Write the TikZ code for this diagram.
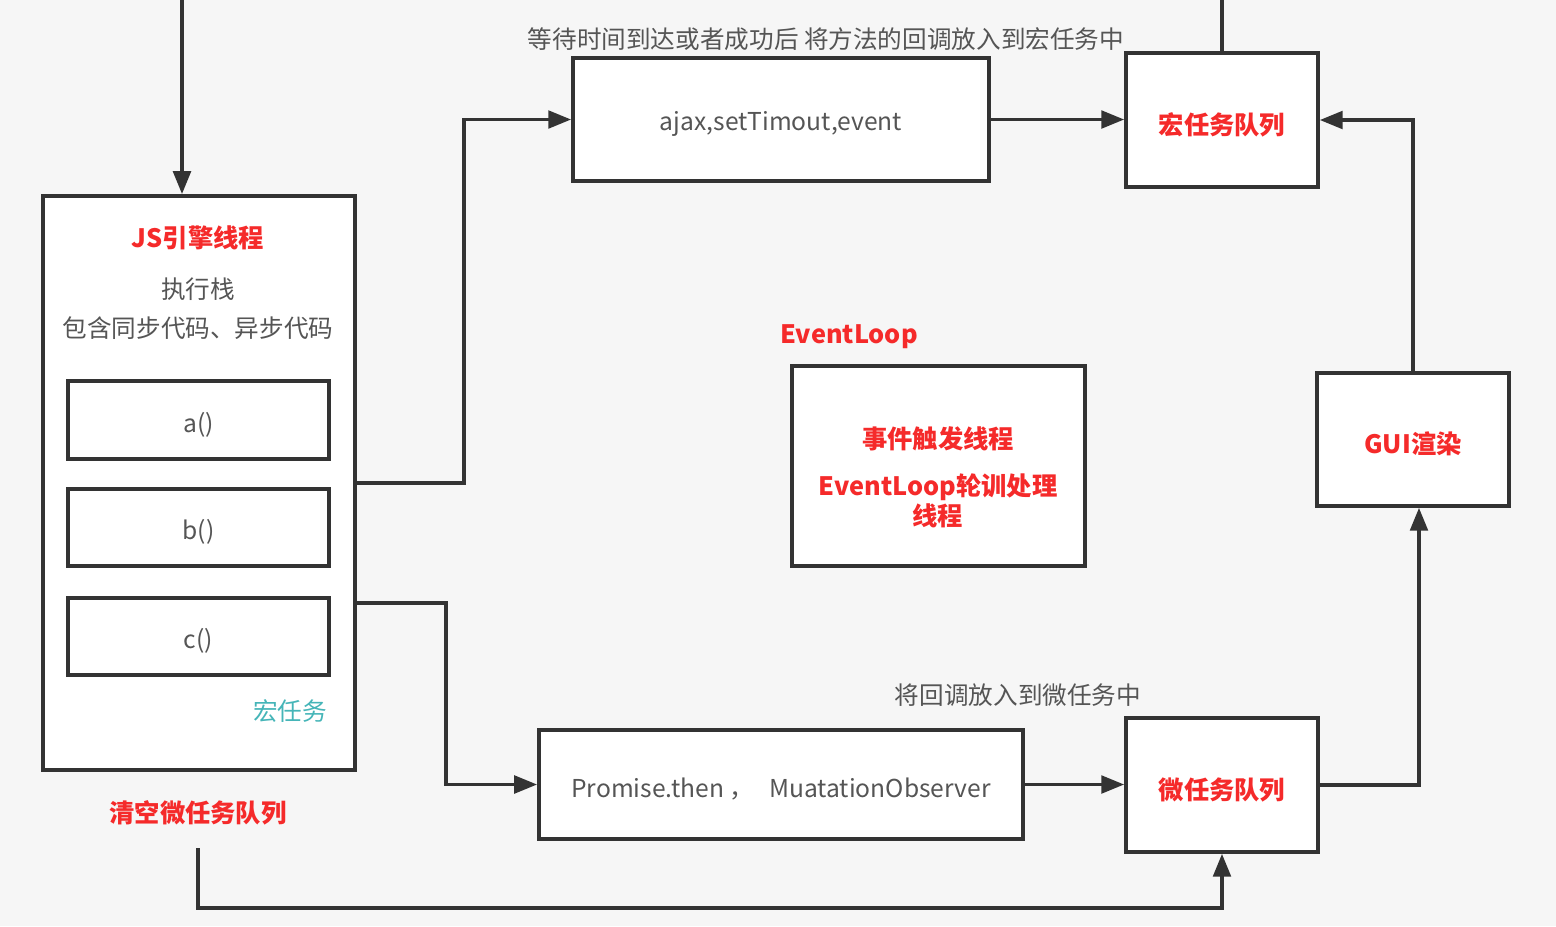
\documentclass[tikz,border=0pt]{standalone}
\usepackage{fontspec}
\setmainfont{Noto Sans CJK SC}
\usetikzlibrary{arrows.meta}
\definecolor{bg}{HTML}{F6F6F6}
\definecolor{ln}{HTML}{333333}
\definecolor{redt}{HTML}{F52A2A}
\definecolor{grayt}{HTML}{555555}
\definecolor{teal}{HTML}{45B5B8}
\newcommand{\dn}[1]{\raisebox{-1.3pt}[\height][\depth]{#1}}
\tikzset{
  box/.style={draw=ln, line width=1pt, fill=white, inner sep=0pt},
  conn/.style={draw=ln, line width=1pt},
  arr/.style={conn, -{Triangle[length=6.5pt,width=5pt]}},
  redlbl/.style={text=redt, font=\fontsize{7.2}{8.6}\selectfont\bfseries, align=center},
  graylbl/.style={text=grayt, font=\fontsize{7}{8.4}\selectfont},
}
\begin{document}
\begin{tikzpicture}[x=0.01cm, y=-0.01cm]
\useasboundingbox[fill=bg] (0,0) rectangle (1556,926);

% JS engine box
\node[box, minimum width=3.12cm, minimum height=5.74cm] (js) at (199,483) {};
\node[redlbl] (jst) at (198,238) {JS引擎线程};
\node[graylbl] (stk) at (198,289) {执行栈};
\node[graylbl] (cont) at (198,328) {包含同步代码、异步代码};
\node[box, minimum width=2.61cm, minimum height=0.78cm, font=\fontsize{7}{8}\selectfont, text=grayt] (a) at (198.5,420) {\dn{a()}};
\node[box, minimum width=2.61cm, minimum height=0.77cm, font=\fontsize{7}{8}\selectfont, text=grayt] (b) at (198.5,527.5) {\dn{b()}};
\node[box, minimum width=2.61cm, minimum height=0.77cm, font=\fontsize{7}{8}\selectfont, text=grayt] (c) at (198.5,636.5) {\dn{c()}};
\node[text=teal, font=\fontsize{7}{8}\selectfont] (mac) at (290,711) {宏任务};
\node[redlbl] (clr) at (198,813) {清空微任务队列};

% top row
\node[box, minimum width=4.16cm, minimum height=1.23cm, font=\fontsize{7}{8}\selectfont, text=grayt] (ajax) at (781,119.5) {\dn{ajax,setTimout,event}};
\node[box, minimum width=1.92cm, minimum height=1.34cm, redlbl] (macro) at (1222,120) {\dn{宏任务队列}};
\node[graylbl] (toplbl) at (826,39) {等待时间到达或者成功后 将方法的回调放入到宏任务中};

% event loop
\node[redlbl] (ell) at (849,337) {EventLoop};
\node[box, minimum width=2.93cm, minimum height=2.0cm] (el) at (938.5,466) {};
\node[redlbl] (el1) at (938,439) {事件触发线程};
\node[redlbl] (el2) at (938,501) {EventLoop轮训处理\\线程};

% GUI
\node[box, minimum width=1.92cm, minimum height=1.33cm, redlbl] (gui) at (1413,439.5) {\dn{GUI渲染}};

% bottom row
\node[box, minimum width=4.84cm, minimum height=1.09cm, font=\fontsize{7}{8}\selectfont, text=grayt] (prom) at (781,784.5) {\dn{Promise.then ，\hspace{0.6em}MuatationObserver}};
\node[box, minimum width=1.92cm, minimum height=1.34cm, redlbl] (micro) at (1222,785) {\dn{微任务队列}};
\node[graylbl] (botlbl) at (1018,695) {将回调放入到微任务中};

% coordinates
\coordinate (topin) at (182,0);
\coordinate (topout) at (1222,0);
\coordinate (js2) at (355,603);
\coordinate (clrout) at (198,848);

% connectors
\draw[arr] (topin) -- (topin |- js.north);
\draw[conn] (macro.north) -- (topout);
\draw[arr] (js.east) -- (464,483) |- (ajax.west);
\draw[arr] (ajax.east) -- (ajax.east -| macro.west);
\draw[arr] (gui.north) |- (macro.east);
\draw[arr] (js2) -- (446,603) |- (prom.west);
\draw[arr] (prom.east) -- (prom.east -| micro.west);
\draw[arr] (micro.east) -| ([xshift=0.06cm]gui.south);
\draw[arr] (clrout) -- (198,908) -| (micro.south);
\end{tikzpicture}
\end{document}
